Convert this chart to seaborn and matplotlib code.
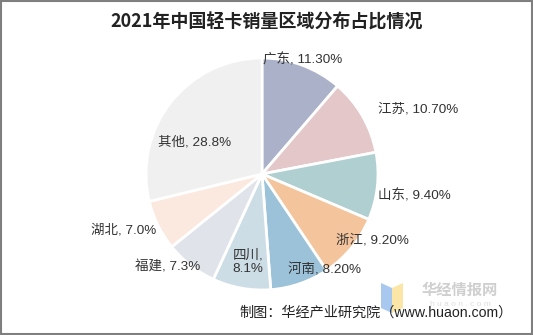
import matplotlib
matplotlib.use("Agg")
import matplotlib.pyplot as plt
import seaborn as sns
from matplotlib.patches import Rectangle, Polygon

regions = ["广东", "江苏", "山东", "浙江", "河南", "四川", "福建", "湖北", "其他"]
shares = [11.3, 10.7, 9.4, 9.2, 8.2, 8.1, 7.3, 7.0, 28.8]
label_texts = ["广东, 11.30%", "江苏, 10.70%", "山东, 9.40%", "浙江, 9.20%",
               "河南, 8.20%", "四川,\n8.1%", "福建, 7.3%", "湖北, 7.0%", "其他, 28.8%"]
colors = ["#abb1c8", "#e3c7c9", "#b0cfd1", "#f4c49c", "#9bc2d8",
          "#cddde5", "#e0e3ea", "#fbe8de", "#f0f0f0"]
# label anchor positions in units of pie radius
label_pos = [(0.35, 0.98), (1.35, 0.56), (1.31, -0.19), (0.95, -0.57),
             (0.54, -0.83), (-0.12, -0.76), (-0.81, -0.80), (-1.19, -0.48), (-0.58, 0.27)]

sns.set_theme(style="white")
plt.rcParams["font.family"] = ["Liberation Sans", "Noto Sans CJK SC", "DejaVu Sans"]

fig = plt.figure(figsize=(5.33, 3.35), dpi=100)
fig.patch.set_facecolor("white")
ax = fig.add_axes([146 / 533, 45 / 335, 232 / 533, 232 / 335])
palette = sns.color_palette(colors)
wedges, _ = ax.pie(shares, colors=palette, startangle=90, counterclock=False,
                   radius=1.0, wedgeprops=dict(edgecolor="white", linewidth=2))
ax.set_xlim(-1, 1)
ax.set_ylim(-1, 1)
ax.set_aspect("equal")
ax.axis("off")

for txt, (x, y) in zip(label_texts, label_pos):
    ax.text(x, y, txt, ha="center", va="center", fontsize=9.7, color="#333333",
            linespacing=1.1, clip_on=False)

fig.text(0.5, 1 - 22 / 335, "2021年中国轻卡销量区域分布占比情况", ha="center", va="center",
         fontsize=13, fontweight="bold", color="#222222",
         family=["Noto Sans CJK SC", "DejaVu Sans"])

# watermark logo
fig.patches.append(Polygon([(381 / 533, 1 - 283 / 335), (392 / 533, 1 - 288 / 335),
                            (392 / 533, 1 - 313 / 335), (381 / 533, 1 - 308 / 335)],
                           closed=True, transform=fig.transFigure, facecolor="#a9c8ef",
                           edgecolor="none"))
fig.patches.append(Polygon([(392 / 533, 1 - 288 / 335), (403 / 533, 1 - 283 / 335),
                            (403 / 533, 1 - 308 / 335), (392 / 533, 1 - 313 / 335)],
                           closed=True, transform=fig.transFigure, facecolor="#fbe6a8",
                           edgecolor="none"))
fig.text(460 / 533, 1 - 290 / 335, "华经情报网", ha="center", va="center", fontsize=11,
         fontweight="bold", color="#cfcfcf", family=["Noto Sans CJK SC"])
fig.text(460 / 533, 1 - 304 / 335, "h u a o n . c o m", ha="center", va="center", fontsize=6,
         color="#dddddd")

fig.text(513 / 533, 1 - 313 / 335, "制图：华经产业研究院（www.huaon.com）", ha="right",
         va="center", fontsize=10.2, color="#222222")

fig.patches.append(Rectangle((0.001, 0.002), 0.997, 0.995, transform=fig.transFigure,
                             fill=False, edgecolor="#7f7f7f", linewidth=1.5))

fig.savefig("out.png", dpi=100)
